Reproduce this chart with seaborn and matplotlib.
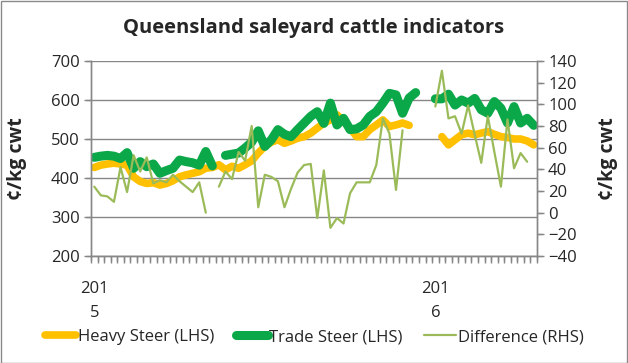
import numpy as np
import pandas as pd
import matplotlib
matplotlib.use("Agg")
import matplotlib.pyplot as plt
from matplotlib.lines import Line2D
from matplotlib.patches import Rectangle
from matplotlib.ticker import FixedLocator
import seaborn as sns

nan = np.nan

# weekly saleyard indicators, c/kg cwt (week index 0 = first week of 2015)
heavy_steer = [427, 433, 436, 438, 436, 433, 403, 391, 386, 388, 382, 386, 393, 403, 408, 412, 416, 425, 427, 434,
               421, 430, 425, 434, 444, 464, 481, 492, 498, 489, 495, 502, 506, 515,
               528, 541, 549, 562, 545, 528, 506, 506, 524, 536, 549, 532, 536, 541, 535,
               nan, nan, nan, nan,
               506, 485, 498, 511, 515, 511, 515, 519, 512, 506, 504, 500, 500, 495, 485]
trade_steer = [453, 456, 458, 456, 450, 465, 425, 442, 429, 436, 412, 419, 425, 446, 442, 439, 433, 468, 431, nan,
               458, 461, 464, 477, 492, 521, 481, 498, 524, 512, 506, 524, 541, 558,
               570, 540, 592, 536, 553, 524, 526, 536, 558, 570, 592, 617, 613, 566, 605, 619,
               nan, nan,
               603, 603, 615, 587, 600, 592, 604, 575, 566, 596, 579, 541, 583, 541, 553, 535]
difference = [24, 16, 15, 10, 42, 19, 53, 38, 51, 27, 30, 28, 35, 29, 24, 19, 28, 0, nan, 24,
              38, 31, 56, 48, 80, 5, 35, 33, 29, 5, 22, 37, 44, 45,
              -5, 39, -14, -5, -10, 18, 28, 28, 28, 44, 87, 73, 21, 76,
              nan, nan, nan, nan,
              98, 131, 87, 89, 73, 99, 72, 46, 89, 56, 24, 86, 41, 55, 47, nan]
year_labels = {0: "201\n5", 52: "201\n6"}
left_ticks = list(range(200, 701, 100))
right_ticks = list(range(-40, 141, 20))

weeks = np.arange(len(heavy_steer))

def segments(values):
    s = pd.Series(values, dtype=float)
    df = pd.DataFrame({"week": weeks, "value": s})
    df["seg"] = s.isna().cumsum()
    return df.dropna()

sns.set_style("ticks")
plt.rcParams["font.family"] = ["Open Sans", "DejaVu Sans"]

YELLOW = "#FFC000"
GREEN = "#0BA84A"
OLIVE = "#9BBB59"
GRID = "#878787"

fig = plt.figure(figsize=(6.28, 3.63), dpi=100)
ax = fig.add_axes([91 / 628, 1 - 256 / 363, (537 - 91) / 628, (256 - 61) / 363])
ax2 = ax.twinx()

sns.lineplot(data=segments(heavy_steer), x="week", y="value", units="seg", estimator=None,
             color=YELLOW, lw=5.5, solid_capstyle="round", solid_joinstyle="round", ax=ax)
sns.lineplot(data=segments(trade_steer), x="week", y="value", units="seg", estimator=None,
             color=GREEN, lw=6.5, solid_capstyle="round", solid_joinstyle="round", ax=ax)
sns.lineplot(data=segments(difference), x="week", y="value", units="seg", estimator=None,
             color=OLIVE, lw=1.6, ax=ax2)

# left axis
ax.set_ylim(200, 700)
ax.set_yticks(left_ticks)
ax.yaxis.grid(True, color=GRID, lw=1)
ax.set_axisbelow(True)
ax.set_xlim(-0.5, len(weeks) - 0.5)
ax.xaxis.set_minor_locator(FixedLocator(np.arange(-0.5, len(weeks))))
ax.set_xticks(list(year_labels.keys()))
ax.set_xticklabels(list(year_labels.values()), fontsize=12, linespacing=1.65)
ax.tick_params(axis="x", which="major", length=0, pad=18)
ax.tick_params(axis="x", which="minor", length=5, width=1, color=GRID, direction="out")
ax.tick_params(axis="y", length=5, width=1, color=GRID, direction="out", labelsize=12, pad=3)
ax.set_xlabel("")
ax.set_ylabel("¢/kg cwt", fontsize=14, fontweight="bold")
ax.yaxis.set_label_coords(-(91 - 27) / 446, 0.5)

# category tick comb and value ticks drawn outside the plot area
tick_w = 5 / 446
tick_h = 5 / 195
ax.vlines(np.arange(-0.5, len(weeks)), -tick_h, 0, transform=ax.get_xaxis_transform(),
          colors=GRID, lw=1, clip_on=False)
ax.hlines(left_ticks, -tick_w, 0, transform=ax.get_yaxis_transform(),
          colors=GRID, lw=1, clip_on=False)

# right axis
ax2.set_ylim(-40, 140)
ax2.set_yticks(right_ticks)
ax2.tick_params(axis="y", length=5, width=1, color=GRID, direction="out", labelsize=12, pad=3)
ax2.hlines(right_ticks, 1, 1 + tick_w, transform=ax2.get_yaxis_transform(),
           colors=GRID, lw=1, clip_on=False)
ax2.set_ylabel("¢/kg cwt", fontsize=14, fontweight="bold")
ax2.yaxis.set_label_coords(1 + (598 - 537) / 446, 0.5)
ax2.set_xlabel("")

for a in (ax, ax2):
    a.spines["top"].set_visible(False)
    for side in ("left", "right", "bottom"):
        a.spines[side].set_visible(True)
        a.spines[side].set_color(GRID)
        a.spines[side].set_linewidth(1)

fig.text(0.5, 1 - 28 / 363, "Queensland saleyard cattle indicators", ha="center", va="center",
         fontsize=14.5, fontweight="bold")

handles = [Line2D([], [], color=YELLOW, lw=5.5, solid_capstyle="round"),
           Line2D([], [], color=GREEN, lw=6.5, solid_capstyle="round"),
           Line2D([], [], color=OLIVE, lw=1.6)]
fig.legend(handles, ["Heavy Steer (LHS)", "Trade Steer (LHS)", "Difference (RHS)"],
           loc="center", bbox_to_anchor=(0.5, 1 - 337 / 363), ncol=3, frameon=False,
           fontsize=12, handlelength=1.9, handletextpad=0.1, columnspacing=1.3)

fig.patches.append(Rectangle((0.5 / 628, 0.5 / 363), 1 - 1.5 / 628, 1 - 1.5 / 363,
                             transform=fig.transFigure, fill=False, edgecolor="#8A8A8A", lw=1))

fig.savefig("out.png", dpi=100)
